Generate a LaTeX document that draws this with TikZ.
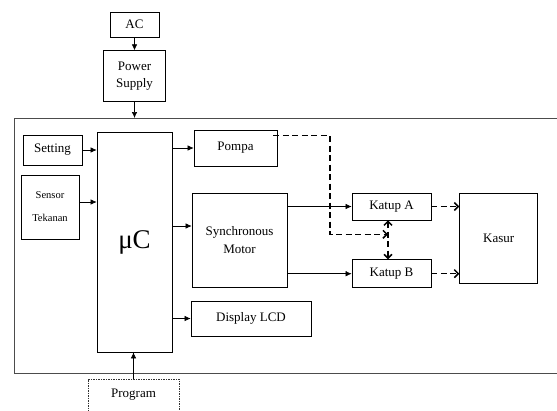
\documentclass[tikz,border=0pt]{standalone}
\usepackage{fontspec}
\setmainfont{Liberation Serif}
\usetikzlibrary{arrows.meta,positioning,calc}

\begin{document}
\begin{tikzpicture}[x=1pt,y=-1pt,>={Straight Barb[length=4pt,width=8pt]},
    blok/.style={draw,line width=0.7pt,align=center,inner sep=1pt,font=\fontsize{13}{17.5}\selectfont},
    sig/.style={-{Latex[length=6pt,width=5.5pt]},line width=0.65pt},
    flow/.style={line width=1.5pt,dash pattern=on 6pt off 3.5pt}]
  \useasboundingbox (0,0) rectangle (557,410);
  % power side
  \node[blok,minimum width=49pt,minimum height=25pt] (ac) at (134.5,24.5) {AC};
  \node[blok,minimum width=62pt,minimum height=51pt,below=13pt of ac] (ps) {Power\\Supply};
  \node[draw=black!70,line width=1.4pt,minimum width=600pt,minimum height=255pt,anchor=north west] (frame) at (14,118) {};
  % inputs and controller
  \node[blok,minimum width=59pt,minimum height=30pt] (set) at (52.5,150) {Setting};
  \node[blok,minimum width=58pt,minimum height=64pt,font=\fontsize{10.5}{23}\selectfont] (sensor) at (50,207) {Sensor\\Tekanan};
  \node[blok,minimum width=75pt,minimum height=220pt,font=\fontsize{27}{30}\selectfont] (uc) at (134.5,242) {μC};
  \node[blok,draw=black!80,line width=0.5pt,dash pattern=on 1.5pt off 1pt,minimum width=91pt,anchor=north,text depth=26pt,inner ysep=10pt] (prog) at (133.5,379) {Program};
  % outputs
  \node[blok,minimum width=83pt,minimum height=36pt] (pompa) at (235.5,148) {Pompa};
  \node[blok,minimum width=95pt,minimum height=94pt] (motor) at (239.5,240) {Synchronous\\Motor};
  \node[blok,minimum width=120pt,minimum height=35pt] (lcd) at (251,318.5) {Display LCD};
  \node[blok,minimum width=79pt,minimum height=27pt] (ka) at (391.5,206.5) {Katup A};
  \node[blok,minimum width=79pt,minimum height=28pt,below=39pt of ka] (kb) {Katup B};
  \node[blok,minimum width=78pt,minimum height=90pt,anchor=north west] (kasur) at ($(ka.north east)+(28,0)$) {Kasur};
  \coordinate (mIn) at ($(motor.west)+(0,-14)$);
  \coordinate (valve) at ($(ka.south)+(-3.5,14)$);
  % signal lines
  \draw[sig] (ac) -- (ps); \draw[sig] (ps) -- (ps |- frame.north);
  \draw[sig] (set) -- (set -| uc.west); \draw[sig] ([yshift=5pt]sensor.east) -- ([yshift=5pt]sensor.east -| uc.west);
  \draw[sig] (uc.east |- pompa) -- (pompa.west); \draw[sig] (uc.east |- mIn) -- (mIn); \draw[sig] (uc.east |- lcd) -- (lcd.west);
  \draw[sig] (motor.east |- ka) -- (ka.west); \draw[sig] (motor.east |- kb) -- (kb.west);
  \draw[sig] (prog) -- (prog |- uc.south);
  % air flow
  \draw[flow,->] ($(pompa.north east)+(-4,6)$) -| ($(valve)+(-58,0)$) -- (valve);
  \draw[flow,<->] (ka.south -| valve) -- (kb.north -| valve);
  \draw[flow,->] (ka) -- (ka -| kasur.west); \draw[flow,->] (kb) -- (kb -| kasur.west);
\end{tikzpicture}
\end{document}
